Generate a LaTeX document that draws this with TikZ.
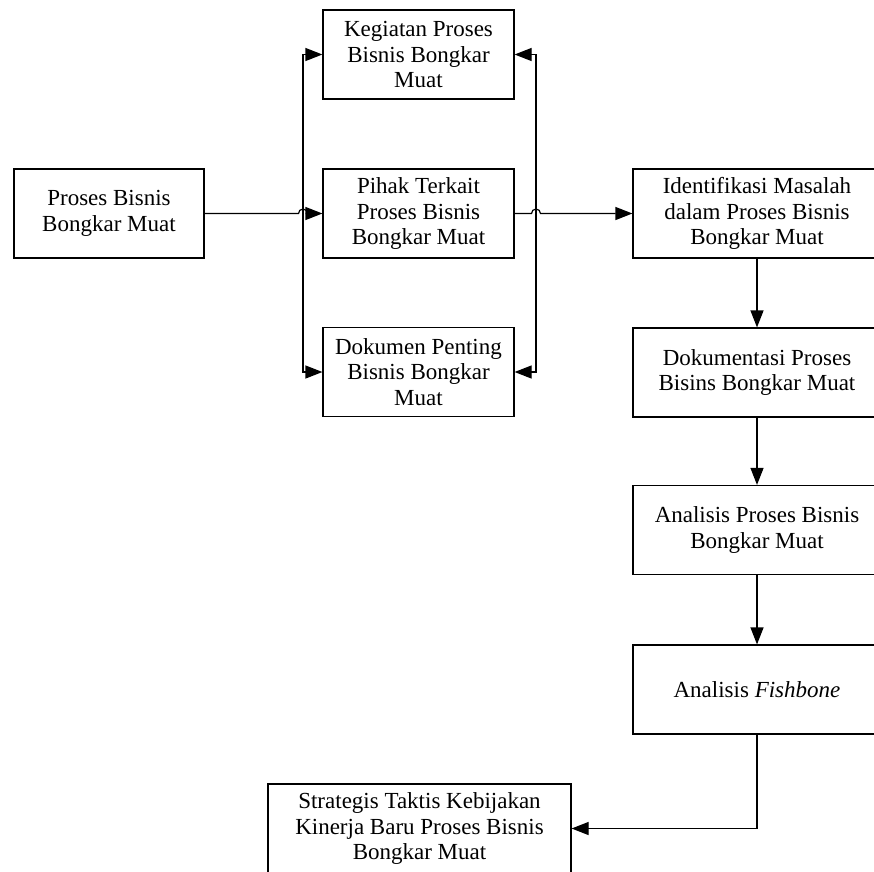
\documentclass[tikz,border=0pt]{standalone}
\usepackage{fontspec}
\setmainfont{Liberation Serif}
\usetikzlibrary{arrows.meta, calc, positioning}

\tikzset{
  box/.style = {draw, line width=1.2pt, align=center, minimum height=89pt, inner sep=2pt,
                font=\fontsize{23}{25.5}\selectfont},
  flow/.style = {-{Triangle[length=17pt, width=13pt]}, line width=1.2pt},
  twoway/.style = {{Triangle[length=17pt, width=13pt]}-{Triangle[length=17pt, width=13pt]}, line width=1.2pt}
}

\begin{document}
\begin{tikzpicture}[x=1pt, y=1pt]
                \useasboundingbox (0,0) rectangle (874,-871);

                \node[box, minimum width=190pt] (proses) at (109,-213.5) {Proses Bisnis\\Bongkar Muat};
                \node[box, minimum width=191pt] (kegiatan) at (418.5,-54.5) {Kegiatan Proses\\Bisnis Bongkar\\Muat};
                \node[box, minimum width=191pt] (pihak) at (418.5,-213.5) {Pihak Terkait\\Proses Bisnis\\Bongkar Muat};
                \node[box, minimum width=191pt] (dokumen) at (418.5,-372) {Dokumen Penting\\Bisnis Bongkar\\Muat};
                \node[box, minimum width=248pt] (identifikasi) at (757,-213.5) {Identifikasi Masalah\\dalam Proses Bisnis\\Bongkar Muat};
                \node[box, minimum width=248pt] (dokumentasi) at (757,-372.5) {Dokumentasi Proses\\Bisins Bongkar Muat};
                \node[box, minimum width=248pt] (analisis) at (757,-530) {Analisis Proses Bisnis\\Bongkar Muat};
                \node[box, minimum width=248pt] (fishbone) at (757,-689.5) {Analisis \textit{Fishbone}};
                \node[box, minimum width=303pt] (strategis) at (419.5,-828.5) {Strategis Taktis Kebijakan\\Kinerja Baru Proses Bisnis\\Bongkar Muat};

                \coordinate (lbus) at (303,0);
                \coordinate (rbus) at (536,0);

                \draw[flow] (proses.east) -- ($(lbus |- proses.east)+(-4.5,0)$) arc (180:0:4.5pt) -- (pihak.west);
                \draw[flow] (pihak.east) -- ($(rbus |- pihak.east)+(-4.5,0)$) arc (180:0:4.5pt) -- (identifikasi.west);
                \draw[twoway] (kegiatan.west) -- (kegiatan.west -| lbus) -- (dokumen.west -| lbus) -- (dokumen.west);
                \draw[twoway] (kegiatan.east) -- (kegiatan.east -| rbus) -- (dokumen.east -| rbus) -- (dokumen.east);
                \draw[flow] (identifikasi.south) -- (dokumentasi.north);
                \draw[flow] (dokumentasi.south) -- (analisis.north);
                \draw[flow] (analisis.south) -- (fishbone.north);
                \draw[flow] (fishbone.south) |- (strategis.east);

            \end{tikzpicture}
\end{document}
